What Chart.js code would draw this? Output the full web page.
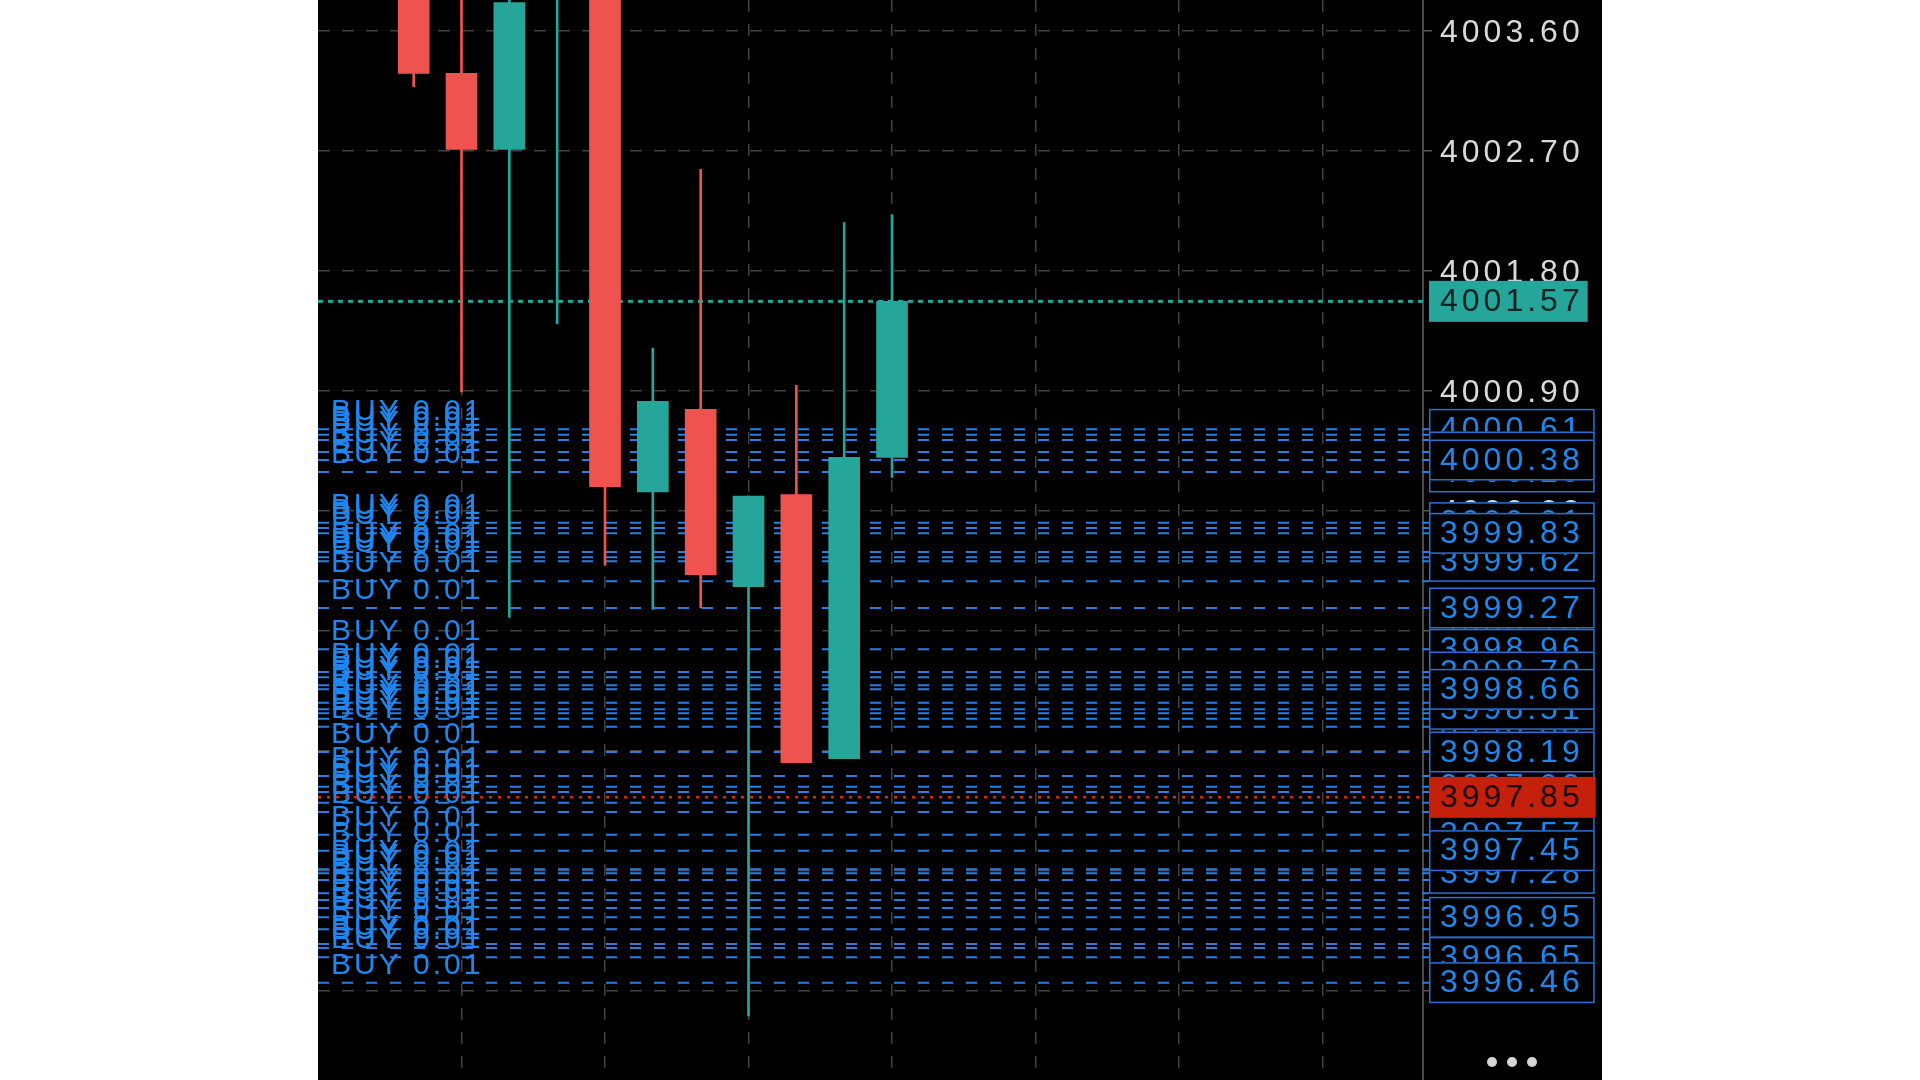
<!DOCTYPE html>
<html>
<head>
<meta charset="utf-8">
<title>XAU candles</title>
<script src="https://cdn.jsdelivr.net/npm/chart.js@4.4.1/dist/chart.umd.min.js"></script>
<style>
    html, body { margin: 0; padding: 0; background: #fff; width: 1920px; height: 1080px; overflow: hidden; }
    #wrap { position: absolute; left: 318px; top: 0; width: 1284px; height: 1080px; background: #000; }
    #more { position: absolute; left: 1169px; top: 1057px; display: flex; gap: 10px; }
    #more span { width: 10px; height: 10px; border-radius: 50%; background: #d6d6d6; }
</style>
</head>
<body>
<div id="wrap">
    <canvas id="chart"></canvas>
    <div id="more"><span></span><span></span><span></span></div>
</div>
<script>
// candles (bar slot on the time axis)
const slots  = [2, 3, 4, 5, 6, 7, 8, 9, 10, 11, 12];
const opens  = [4004.30, 4003.28, 4002.71, 4003.90, 4004.50, 4000.14, 4000.76, 3999.43, 4000.12, 3998.14, 4000.40];
const highs  = [4004.50, 4004.20, 4003.90, 4004.80, 4004.60, 4001.22, 4002.56, 4000.11, 4000.94, 4002.16, 4002.22];
const lows   = [4003.18, 4000.89, 3999.20, 4001.40, 3999.59, 3999.26, 3999.27, 3996.21, 3998.11, 3998.14, 4000.25];
const closes = [4003.28, 4002.71, 4003.81, 4004.60, 4000.18, 4000.82, 3999.52, 4000.11, 3998.11, 4000.40, 4001.57];

const yTicks = [3996.40, 3997.30, 3998.20, 3999.10, 4000.00, 4000.90, 4001.80, 4002.70, 4003.60];
const yMin = 3995.73;
const yMax = 4003.83;

const lastPrice = 4001.57;
const redLinePrice = 3997.85;

// open orders
const orderText = 'BUY 0.01';
const orderPrices = [
    4000.61, 4000.57, 4000.53, 4000.44, 4000.38, 4000.29,
    3999.91, 3999.87, 3999.83, 3999.69, 3999.65, 3999.62, 3999.47, 3999.27,
    3998.96, 3998.79, 3998.75, 3998.69, 3998.66, 3998.56, 3998.51, 3998.48, 3998.44, 3998.38,
    3998.19, 3998.01, 3997.93, 3997.89, 3997.81, 3997.74, 3997.57, 3997.45,
    3997.31, 3997.28, 3997.23, 3997.13, 3997.08, 3997.02, 3996.95, 3996.86,
    3996.75, 3996.72, 3996.65, 3996.46
];
// price tags on the axis, in the order they are stacked
const axisLabelPrices = [
    4000.61, 4000.44, 4000.29, 4000.38, 3999.91, 3999.62, 3999.83, 3999.27,
    3998.96, 3998.79, 3998.38, 3998.51, 3998.66, 3997.93, 3998.19,
    3997.57, 3997.28, 3997.45, 3996.95, 3996.65, 3996.46
];

const UP = '#26a69a';
const DOWN = '#ef5350';
const ORDER_BLUE = '#2d7de1';
const ORDER_TEXT = '#1f88f0';
const GRID = '#424242';
const AXIS_FONT = '32px "Liberation Sans", Arial, sans-serif';

const colors = closes.map((c, i) => c >= opens[i] ? UP : DOWN);

const tradeLines = {
    id: 'tradeLines',
    beforeDraw(chart) {
        chart.ctx.letterSpacing = '4px';
    },
    beforeDatasetsDraw(chart) {
        const { ctx, chartArea: a, scales: { y } } = chart;
        ctx.save();
        ctx.beginPath();
        ctx.rect(a.left, a.top, a.right - a.left + 6, a.bottom - a.top);
        ctx.clip();

        ctx.strokeStyle = ORDER_BLUE;
        ctx.lineWidth = 2;
        ctx.setLineDash([11, 13]);
        orderPrices.forEach(p => {
            const py = y.getPixelForValue(p);
            ctx.beginPath();
            ctx.moveTo(a.left, py);
            ctx.lineTo(a.right + 6, py);
            ctx.stroke();
        });

        ctx.setLineDash([]);
        ctx.letterSpacing = '3px';
        ctx.font = '30px "Liberation Sans", Arial, sans-serif';
        ctx.fillStyle = ORDER_TEXT;
        ctx.textBaseline = 'alphabetic';
        ctx.textAlign = 'left';
        orderPrices.forEach(p => {
            ctx.fillText(orderText, a.left + 13, y.getPixelForValue(p) - 9);
        });

        // last price
        let py = y.getPixelForValue(lastPrice);
        ctx.strokeStyle = UP;
        ctx.lineWidth = 3;
        ctx.setLineDash([5, 5]);
        ctx.beginPath();
        ctx.moveTo(a.left, py);
        ctx.lineTo(a.right, py);
        ctx.stroke();

        py = y.getPixelForValue(redLinePrice);
        ctx.strokeStyle = '#d42a12';
        ctx.lineWidth = 2.5;
        ctx.setLineDash([3, 6]);
        ctx.beginPath();
        ctx.moveTo(a.left, py);
        ctx.lineTo(a.right, py);
        ctx.stroke();
        ctx.restore();
    },
    afterDraw(chart) {
        const { ctx, chartArea: a, scales: { y } } = chart;
        const x0 = a.right + 6;
        const h = 41;
        ctx.save();
        ctx.font = AXIS_FONT;
        ctx.letterSpacing = '4px';
        ctx.textBaseline = 'middle';
        ctx.textAlign = 'left';

        const tag = (p, fill, stroke, textColor, padRight) => {
            const txt = p.toFixed(2);
            const py = y.getPixelForValue(p);
            const w = ctx.measureText(txt).width + 11 + padRight;
            ctx.fillStyle = fill;
            ctx.fillRect(x0, py - h / 2, w, h);
            if (stroke) {
                ctx.strokeStyle = stroke;
                ctx.lineWidth = 1.5;
                ctx.strokeRect(x0 + 0.75, py - h / 2 + 0.75, w - 1.5, h - 1.5);
            }
            ctx.fillStyle = textColor;
            ctx.fillText(txt, x0 + 11, py + 1);
        };

        axisLabelPrices.forEach(p => tag(p, '#000', '#2a6fd4', ORDER_TEXT, 11));
        tag(redLinePrice, '#c4200c', null, '#1a0402', 12);
        tag(lastPrice, UP, null, '#0b2220', 4);
        ctx.restore();
    }
};

new Chart(document.getElementById('chart'), {
    type: 'bar',
    data: {
        datasets: [
            {
                label: 'body',
                data: slots.map((x, i) => ({ x, y: [opens[i], closes[i]] })),
                backgroundColor: colors,
                barThickness: 31,
                grouped: false,
                borderWidth: 0
            },
            {
                label: 'wick',
                data: slots.map((x, i) => ({ x, y: [lows[i], highs[i]] })),
                backgroundColor: colors,
                barThickness: 2,
                grouped: false,
                borderWidth: 0
            }
        ]
    },
    options: {
        responsive: true,
        maintainAspectRatio: false,
        animation: false,
        devicePixelRatio: 1,
        layout: { padding: 0 },
        plugins: {
            legend: { display: false },
            tooltip: { enabled: false }
        },
        scales: {
            x: {
                type: 'linear',
                min: 0,
                max: 23.1,
                offset: false,
                ticks: { display: false, stepSize: 3 },
                grid: {
                    offset: false,
                    drawTicks: false,
                    lineWidth: 1.5,
                    color: ctx => (ctx.tick && ctx.tick.value > 0 && ctx.tick.value % 3 === 0 && ctx.tick.value < 23) ? GRID : 'transparent'
                },
                border: { display: false, dash: [12, 12] },
                afterFit: scale => { scale.height = 0; scale.paddingLeft = 0; scale.paddingRight = 0; }
            },
            y: {
                position: 'right',
                min: yMin,
                max: yMax,
                afterBuildTicks: scale => { scale.ticks = yTicks.map(v => ({ value: v })); },
                ticks: {
                    color: '#d9d9d9',
                    font: { family: '"Liberation Sans", Arial, sans-serif', size: 32 },
                    padding: 8,
                    labelOffset: 3,
                    callback: v => Number(v).toFixed(2)
                },
                grid: {
                    color: GRID,
                    lineWidth: 1.5,
                    tickLength: 9,
                    tickColor: '#555'
                },
                border: { display: true, color: '#4a4a4a', width: 2, dash: [12, 12] },
                afterFit: scale => { scale.width = 179; scale.paddingTop = 0; scale.paddingBottom = 0; }
            }
        }
    },
    plugins: [tradeLines]
});
</script>
</body>
</html>
